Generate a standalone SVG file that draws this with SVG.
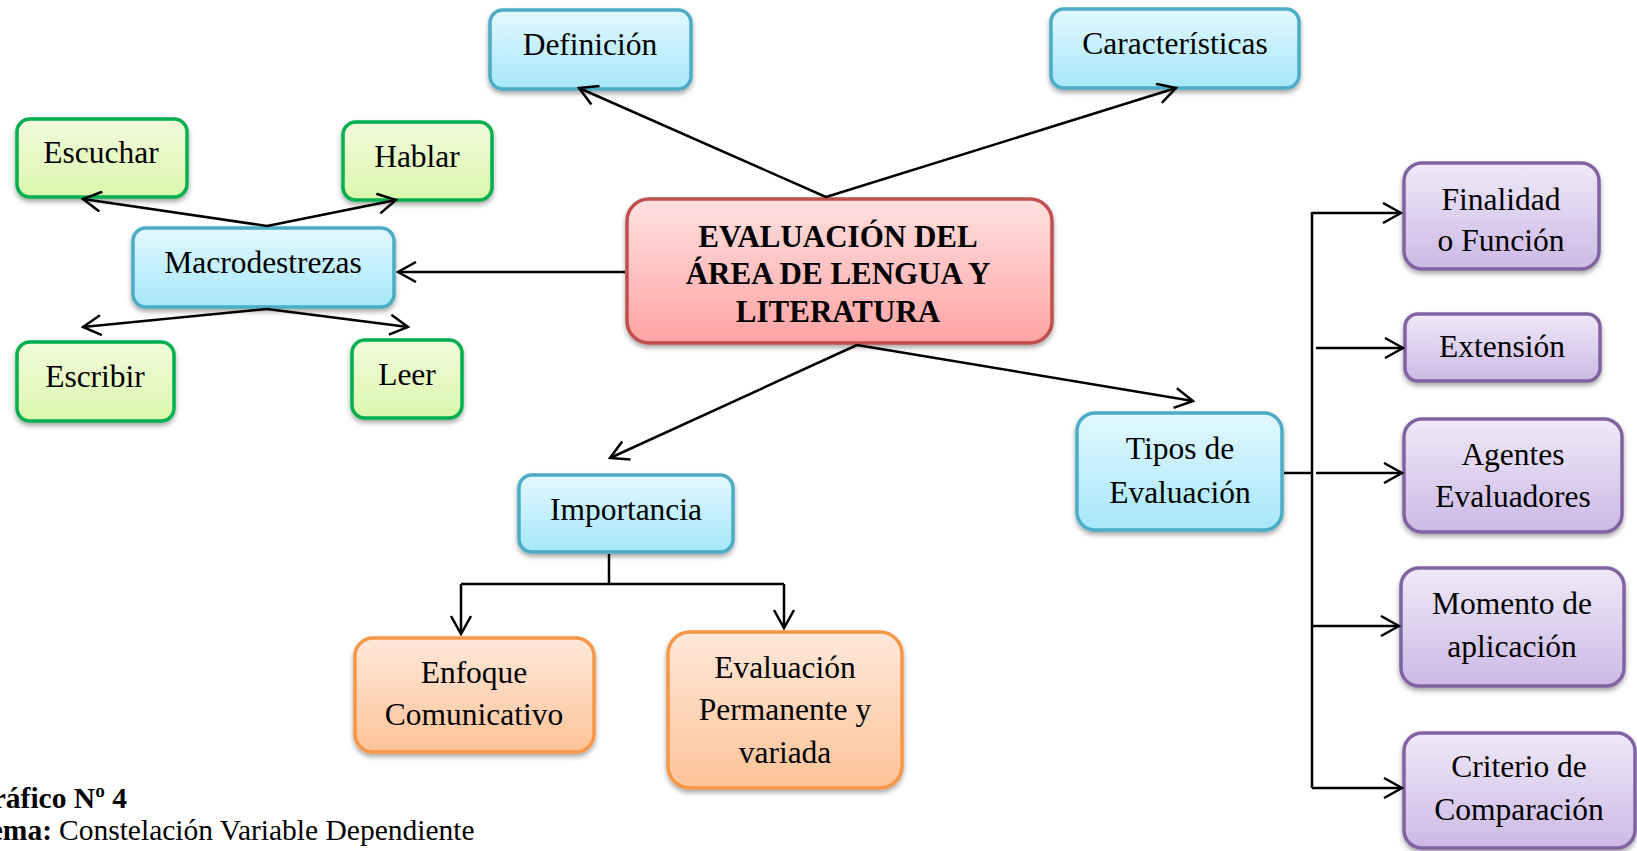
<svg xmlns="http://www.w3.org/2000/svg" width="1637" height="851" viewBox="0 0 1637 851">
<defs>
<linearGradient id="gBlue" x1="0" y1="0" x2="0" y2="1"><stop offset="0" stop-color="#e2f8fd"/><stop offset="1" stop-color="#a6e7fa"/></linearGradient>
<linearGradient id="gGreen" x1="0" y1="0" x2="0" y2="1"><stop offset="0" stop-color="#f2fbdc"/><stop offset="1" stop-color="#daf7ac"/></linearGradient>
<linearGradient id="gRed" x1="0" y1="0" x2="0" y2="1"><stop offset="0" stop-color="#ffe0e0"/><stop offset="1" stop-color="#ffa3a3"/></linearGradient>
<linearGradient id="gOrange" x1="0" y1="0" x2="0" y2="1"><stop offset="0" stop-color="#fee8da"/><stop offset="1" stop-color="#fdc397"/></linearGradient>
<linearGradient id="gPurple" x1="0" y1="0" x2="0" y2="1"><stop offset="0" stop-color="#efe9f7"/><stop offset="1" stop-color="#ccb9e5"/></linearGradient>
<filter id="sh" x="-10%" y="-10%" width="120%" height="130%"><feDropShadow dx="0" dy="3" stdDeviation="2.5" flood-color="#000" flood-opacity="0.35"/></filter>
<marker id="ah" viewBox="0 0 22 22" refX="20" refY="11" markerWidth="22" markerHeight="22" markerUnits="userSpaceOnUse" orient="auto">
<path d="M2,1 L20,11 L2,21" fill="none" stroke="#000" stroke-width="2.5"/>
</marker>
<style>
.box{stroke-width:3.5;filter:url(#sh)}
.blue{fill:url(#gBlue);stroke:#4bacc6}
.green{fill:url(#gGreen);stroke:#00b050}
.red{fill:url(#gRed);stroke:#c0504d}
.orange{fill:url(#gOrange);stroke:#f79646}
.purple{fill:url(#gPurple);stroke:#8064a2}
.t{font-family:"Liberation Serif","Times New Roman",serif;font-size:31.5px;fill:#000;text-anchor:middle}
.tb{font-family:"Liberation Serif","Times New Roman",serif;font-size:31px;font-weight:bold;fill:#000;text-anchor:middle}
.c{stroke:#000;stroke-width:2.5;fill:none}
.a{marker-end:url(#ah)}
.cap{font-family:"Liberation Serif","Times New Roman",serif;font-size:29.5px;fill:#000}
</style>
</defs>

<g id="central">
<rect class="box red" x="627" y="199" width="425" height="144" rx="22"/>
<text class="tb" x="838" y="247">EVALUACIÓN DEL</text>
<text class="tb" x="838" y="284">ÁREA DE LENGUA Y</text>
<text class="tb" x="838" y="322">LITERATURA</text>
</g>

<g id="definicion">
<rect class="box blue" x="490" y="10" width="201" height="79" rx="13"/>
<text class="t" x="590" y="55">Definición</text>
</g>

<g id="caracteristicas">
<rect class="box blue" x="1051" y="9" width="248" height="79" rx="13"/>
<text class="t" x="1175" y="54">Características</text>
</g>

<g id="macrodestrezas">
<rect class="box blue" x="133" y="228" width="261" height="79" rx="13"/>
<text class="t" x="263" y="273">Macrodestrezas</text>
</g>

<g id="escuchar">
<rect class="box green" x="17" y="119" width="170" height="78" rx="13"/>
<text class="t" x="101" y="163">Escuchar</text>
</g>

<g id="hablar">
<rect class="box green" x="343" y="122" width="149" height="78" rx="13"/>
<text class="t" x="417" y="167">Hablar</text>
</g>

<g id="escribir">
<rect class="box green" x="17" y="342" width="157" height="79" rx="13"/>
<text class="t" x="95" y="387">Escribir</text>
</g>

<g id="leer">
<rect class="box green" x="352" y="340" width="110" height="78" rx="13"/>
<text class="t" x="407" y="385">Leer</text>
</g>

<g id="importancia">
<rect class="box blue" x="519" y="475" width="214" height="77" rx="13"/>
<text class="t" x="626" y="520">Importancia</text>
</g>

<g id="enfoque">
<rect class="box orange" x="355" y="638" width="239" height="114" rx="18"/>
<text class="t" x="474" y="683">Enfoque</text>
<text class="t" x="474" y="725">Comunicativo</text>
</g>

<g id="evaluacion-permanente">
<rect class="box orange" x="668" y="632" width="234" height="156" rx="22"/>
<text class="t" x="785" y="678">Evaluación</text>
<text class="t" x="785" y="720">Permanente y</text>
<text class="t" x="785" y="763">variada</text>
</g>

<g id="tipos">
<rect class="box blue" x="1077" y="413" width="205" height="117" rx="18"/>
<text class="t" x="1180" y="459">Tipos de</text>
<text class="t" x="1180" y="503">Evaluación</text>
</g>

<g id="finalidad">
<rect class="box purple" x="1404" y="163" width="195" height="106" rx="18"/>
<text class="t" x="1501" y="210">Finalidad</text>
<text class="t" x="1501" y="251">o Función</text>
</g>

<g id="extension">
<rect class="box purple" x="1405" y="314" width="195" height="67" rx="13"/>
<text class="t" x="1502" y="357">Extensión</text>
</g>

<g id="agentes">
<rect class="box purple" x="1404" y="419" width="218" height="113" rx="18"/>
<text class="t" x="1513" y="465">Agentes</text>
<text class="t" x="1513" y="507">Evaluadores</text>
</g>

<g id="momento">
<rect class="box purple" x="1401" y="568" width="223" height="118" rx="18"/>
<text class="t" x="1512" y="614">Momento de</text>
<text class="t" x="1512" y="657">aplicación</text>
</g>

<g id="criterio">
<rect class="box purple" x="1404" y="733" width="231" height="115" rx="18"/>
<text class="t" x="1519" y="777">Criterio de</text>
<text class="t" x="1519" y="820">Comparación</text>
</g>

<g id="connectors">
<line class="c a" x1="625" y1="272" x2="398" y2="272"/>
<line class="c a" x1="826" y1="197" x2="579" y2="88"/>
<line class="c a" x1="826" y1="197" x2="1176" y2="88"/>
<line class="c a" x1="857" y1="345" x2="610" y2="458"/>
<line class="c a" x1="857" y1="345" x2="1193" y2="401"/>
<line class="c a" x1="267" y1="226" x2="83" y2="199"/>
<line class="c a" x1="267" y1="226" x2="396" y2="200"/>
<line class="c a" x1="267" y1="309" x2="83" y2="327"/>
<line class="c a" x1="267" y1="309" x2="408" y2="327"/>
<line class="c" x1="609" y1="554" x2="609" y2="584"/>
<line class="c" x1="461" y1="584" x2="784" y2="584"/>
<line class="c a" x1="461" y1="584" x2="461" y2="634"/>
<line class="c a" x1="784" y1="584" x2="784" y2="628"/>
<line class="c" x1="1284" y1="473" x2="1312" y2="473"/>
<line class="c" x1="1312" y1="212" x2="1312" y2="788"/>
<line class="c a" x1="1312" y1="213" x2="1401" y2="213"/>
<line class="c a" x1="1316" y1="348" x2="1403" y2="348"/>
<line class="c a" x1="1316" y1="473" x2="1402" y2="473"/>
<line class="c a" x1="1313" y1="626" x2="1399" y2="626"/>
<line class="c a" x1="1312" y1="788" x2="1402" y2="788"/>
</g>

<g id="caption">
<text class="cap" x="127" y="808" text-anchor="end" font-weight="bold">Gráfico Nº 4</text>
<text class="cap" x="52" y="840" text-anchor="end" font-weight="bold">Tema:</text>
<text class="cap" x="59" y="840">Constelación Variable Dependiente</text>
</g>
</svg>
